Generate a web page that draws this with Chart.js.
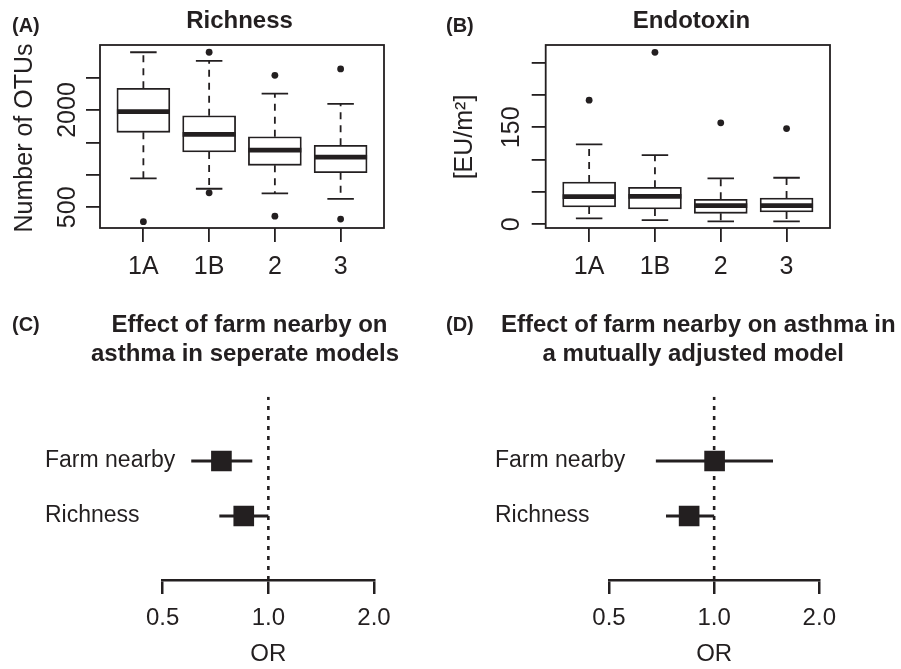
<!DOCTYPE html>
<html>
<head>
<meta charset="utf-8">
<script src="https://cdn.jsdelivr.net/npm/chart.js@4.4.1/dist/chart.umd.min.js"></script>
<style>
  html, body { margin: 0; padding: 0; background: #fff; }
  #wrap { position: relative; width: 901px; height: 669px; overflow: hidden; }
  canvas { position: absolute; }
</style>
</head>
<body>
<div id="wrap">
  <canvas id="richness" style="left:0;top:0" width="440" height="300"></canvas>
  <canvas id="endotoxin" style="left:440px;top:0" width="461" height="300"></canvas>
  <canvas id="forestSep" style="left:0;top:300px" width="440" height="369"></canvas>
  <canvas id="forestAdj" style="left:440px;top:300px" width="461" height="369"></canvas>
</div>
<script>
// ---- data ----
var groups = ['1A', '1B', '2', '3'];

// richness, number of OTUs
var richLow  = [946, 786, 715, 631];
var richQ1   = [1656, 1352, 1147, 1033];
var richMed  = [1974, 1625, 1383, 1275];
var richQ3   = [2334, 1912, 1588, 1455];
var richHigh = [2890, 2756, 2252, 2093];
var richOut  = [[278], [2890, 724], [2535, 364], [2633, 318]];
var richTicks = [500, 1000, 1500, 2000, 2500];
var richTickLabels = [500, 2000];

// endotoxin, EU/m2
var endoLow  = [9.3, 6.6, 4.6, 4.6];
var endoQ1   = [26.8, 23.7, 17, 19];
var endoMed  = [42.7, 43.3, 28.8, 28.8];
var endoQ3   = [65.4, 57.2, 38.7, 40.7];
var endoHigh = [123.7, 107, 71, 72];
var endoOut  = [[192], [266], [157], [148]];
var endoTicks = [0, 50, 100, 150, 200, 250];
var endoTickLabels = [0, 150];

// odds ratios
var forestRows = ['Farm nearby', 'Richness'];
var sepOR = [0.735, 0.851];
var sepLo = [0.603, 0.725];
var sepHi = [0.90, 1.0];
var adjOR = [1.003, 0.848];
var adjLo = [0.681, 0.728];
var adjHi = [1.474, 1.0];
var orTicks = [0.5, 1.0, 2.0];
var nullOR = 1;

// ---- style ----
var ink = '#231f20';
var fam = '"Liberation Sans", Arial, Helvetica, sans-serif';
Chart.defaults.font.family = fam;
Chart.defaults.color = ink;

var boxWidth = 53;

function drawTexts(ctx, list) {
  list.forEach(function (t) {
    ctx.save();
    ctx.font = (t.bold ? 'bold ' : '') + t.size + 'px ' + fam;
    ctx.fillStyle = ink;
    ctx.textAlign = t.align || 'left';
    ctx.textBaseline = 'alphabetic';
    ctx.translate(t.x, t.y);
    if (t.rot) ctx.rotate(-Math.PI / 2);
    ctx.fillText(t.text, 0, 0);
    ctx.restore();
  });
}

// R style boxplot: whiskers, medians, frame, rotated y labels
function boxPlugin(st, texts) {
  return {
    id: 'rbox',
    afterDatasetsDraw: function (chart) {
      var ctx = chart.ctx, xs = chart.scales.x, ys = chart.scales.y, a = chart.chartArea;
      ctx.save();
      ctx.strokeStyle = ink;
      ctx.lineCap = 'butt';
      groups.forEach(function (g, i) {
        var cx = xs.getPixelForValue(i + 1);
        var half = boxWidth / 2, cap = boxWidth / 4;
        var pLo = ys.getPixelForValue(st.low[i]);
        var pQ1 = ys.getPixelForValue(st.q1[i]);
        var pMed = ys.getPixelForValue(st.med[i]);
        var pQ3 = ys.getPixelForValue(st.q3[i]);
        var pHi = ys.getPixelForValue(st.high[i]);
        ctx.lineWidth = 1.8;
        ctx.setLineDash([7, 6]);
        ctx.beginPath();
        ctx.moveTo(cx, pQ3); ctx.lineTo(cx, pHi);
        ctx.moveTo(cx, pQ1); ctx.lineTo(cx, pLo);
        ctx.stroke();
        ctx.setLineDash([]);
        ctx.beginPath();
        ctx.moveTo(cx - cap, pHi); ctx.lineTo(cx + cap, pHi);
        ctx.moveTo(cx - cap, pLo); ctx.lineTo(cx + cap, pLo);
        ctx.stroke();
        ctx.lineWidth = 4.8;
        ctx.beginPath();
        ctx.moveTo(cx - half, pMed); ctx.lineTo(cx + half, pMed);
        ctx.stroke();
      });
      ctx.lineWidth = 1.8;
      ctx.strokeRect(a.left, a.top, a.right - a.left, a.bottom - a.top);
      ctx.restore();
    },
    afterDraw: function (chart) {
      var ctx = chart.ctx, ys = chart.scales.y;
      ctx.save();
      ctx.font = '25px ' + fam;
      ctx.fillStyle = ink;
      ctx.textAlign = 'center';
      ctx.textBaseline = 'alphabetic';
      st.tickLabels.forEach(function (v) {
        ctx.save();
        ctx.translate(st.labelX, ys.getPixelForValue(v));
        ctx.rotate(-Math.PI / 2);
        ctx.fillText(String(v), 0, 0);
        ctx.restore();
      });
      ctx.restore();
      drawTexts(ctx, texts);
    }
  };
}

function boxChart(id, st, texts) {
  var outPts = [];
  st.out.forEach(function (arr, i) {
    arr.forEach(function (v) { outPts.push({x: i + 1, y: v}); });
  });
  var W = document.getElementById(id).width;
  return new Chart(document.getElementById(id), {
    type: 'bar',
    data: {
      datasets: [{
        type: 'scatter',
        data: outPts,
        pointRadius: 3.4,
        backgroundColor: ink,
        borderWidth: 0
      }, {
        data: groups.map(function (g, i) { return {x: i + 1, y: [st.q1[i], st.q3[i]]}; }),
        backgroundColor: '#fff',
        borderColor: ink,
        borderWidth: 1.8,
        borderSkipped: false,
        barThickness: boxWidth
      }]
    },
    options: {
      responsive: false,
      animation: false,
      events: [],
      layout: { padding: { left: 0, top: 45, right: W - st.right, bottom: 300 - 228 - 54 } },
      plugins: { legend: { display: false }, tooltip: { enabled: false } },
      scales: {
        x: {
          type: 'linear', min: 0.34, max: 4.66, offset: false,
          afterBuildTicks: function (s) { s.ticks = groups.map(function (g, i) { return {value: i + 1}; }); },
          afterFit: function (s) { s.height = 54; },
          grid: { offset: false, drawOnChartArea: false, tickLength: 14, color: ink, lineWidth: 1.8 },
          border: { display: false },
          ticks: {
            font: { size: 25 }, padding: 10, maxRotation: 0, autoSkip: false, color: ink,
            callback: function (v) { return groups[v - 1]; }
          }
        },
        y: {
          type: 'linear', min: st.min, max: st.max, beginAtZero: false,
          afterBuildTicks: function (s) { s.ticks = st.ticks.map(function (v) { return {value: v}; }); },
          afterFit: function (s) { s.width = st.left; },
          grid: { drawOnChartArea: false, tickLength: 14, color: ink, lineWidth: 1.8 },
          border: { display: false },
          ticks: { display: false }
        }
      }
    },
    plugins: [boxPlugin(st, texts)]
  });
}

boxChart('richness', {
  low: richLow, q1: richQ1, med: richMed, q3: richQ3, high: richHigh, out: richOut,
  ticks: richTicks, tickLabels: richTickLabels, min: 181, max: 3002,
  left: 100, right: 384, labelX: 75
}, [
  { text: '(A)', x: 12, y: 32, size: 20, bold: true },
  { text: 'Richness', x: 239.5, y: 27.7, size: 24, bold: true, align: 'center' },
  { text: 'Number of OTUs', x: 31.7, y: 138, size: 25, rot: true, align: 'center' }
]);

boxChart('endotoxin', {
  low: endoLow, q1: endoQ1, med: endoMed, q3: endoQ3, high: endoHigh, out: endoOut,
  ticks: endoTicks, tickLabels: endoTickLabels, min: -5.7, max: 277.3,
  left: 105.7, right: 390, labelX: 79.3
}, [
  { text: '(B)', x: 6, y: 32, size: 20, bold: true },
  { text: 'Endotoxin', x: 251.5, y: 27.7, size: 24, bold: true, align: 'center' },
  { text: '[EU/m\u00b2]', x: 31.7, y: 137, size: 25, rot: true, align: 'center' }
]);

// ---- forest plots ----
var rowMin = -0.1636, rowMax = 3.169;

function forestChart(id, or, lo, hi, lay, texts) {
  var W = document.getElementById(id).width;
  var rowY = forestRows.map(function (r, i) { return forestRows.length - i; });
  var datasets = [{
    data: or.map(function (v, i) { return {x: v, y: rowY[i]}; }),
    pointStyle: 'rect',
    pointRadius: 14.6,
    backgroundColor: ink,
    borderWidth: 0
  }];
  forestRows.forEach(function (r, i) {
    datasets.push({
      data: [{x: lo[i], y: rowY[i]}, {x: hi[i], y: rowY[i]}],
      showLine: true, borderColor: ink, borderWidth: 3, pointRadius: 0
    });
  });
  datasets.push({
    data: [{x: nullOR, y: rowMin}, {x: nullOR, y: rowMax}],
    showLine: true, borderColor: ink, borderWidth: 2.6, borderDash: [4, 6], pointRadius: 0
  });

  return new Chart(document.getElementById(id), {
    type: 'scatter',
    data: { datasets: datasets },
    options: {
      responsive: false,
      animation: false,
      events: [],
      layout: { padding: { left: lay.labelX, top: 96.7, right: W - lay.right, bottom: 0 } },
      plugins: { legend: { display: false }, tooltip: { enabled: false } },
      scales: {
        x: {
          type: 'logarithmic', min: orTicks[0], max: orTicks[orTicks.length - 1],
          afterBuildTicks: function (s) { s.ticks = orTicks.map(function (v) { return {value: v}; }); },
          afterFit: function (s) { s.height = 89; },
          grid: { drawOnChartArea: false, tickLength: 14, color: ink, lineWidth: 2.5 },
          border: { display: true, color: ink, width: 2.5 },
          ticks: {
            font: { size: 24 }, padding: 10, maxRotation: 0, autoSkip: false, color: ink,
            callback: function (v) { return Number(v).toFixed(1); }
          },
          title: { display: true, text: 'OR', font: { size: 24 }, color: ink, padding: { top: 0, bottom: 0 } }
        },
        y: {
          type: 'linear', min: rowMin, max: rowMax,
          afterBuildTicks: function (s) { s.ticks = rowY.map(function (v) { return {value: v}; }); },
          afterFit: function (s) { s.width = lay.left - lay.labelX; },
          grid: { display: false },
          border: { display: false },
          ticks: { display: false }
        }
      }
    },
    plugins: [{
      id: 'rtext',
      afterDraw: function (chart) {
        var ctx = chart.ctx, ys = chart.scales.y;
        // row labels, left aligned, they run into the plot region as in R
        ctx.save();
        ctx.font = '23px ' + fam;
        ctx.fillStyle = ink;
        ctx.textAlign = 'left';
        ctx.textBaseline = 'middle';
        forestRows.forEach(function (r, i) {
          ctx.fillText(r, lay.labelX, ys.getPixelForValue(rowY[i]));
        });
        ctx.restore();
        drawTexts(ctx, texts);
      }
    }]
  });
}

forestChart('forestSep', sepOR, sepLo, sepHi, { labelX: 45, left: 162.7, right: 374 }, [
  { text: '(C)', x: 12, y: 30.7, size: 20, bold: true },
  { text: 'Effect of farm nearby on', x: 249.5, y: 31.7, size: 24, bold: true, align: 'center' },
  { text: 'asthma in seperate models', x: 245, y: 61, size: 24, bold: true, align: 'center' }
]);

forestChart('forestAdj', adjOR, adjLo, adjHi, { labelX: 55, left: 169, right: 379.3 }, [
  { text: '(D)', x: 6, y: 30.7, size: 20, bold: true },
  { text: 'Effect of farm nearby on asthma in', x: 258.3, y: 31.7, size: 24, bold: true, align: 'center' },
  { text: 'a mutually adjusted model', x: 253.3, y: 61, size: 24, bold: true, align: 'center' }
]);
</script>
</body>
</html>
